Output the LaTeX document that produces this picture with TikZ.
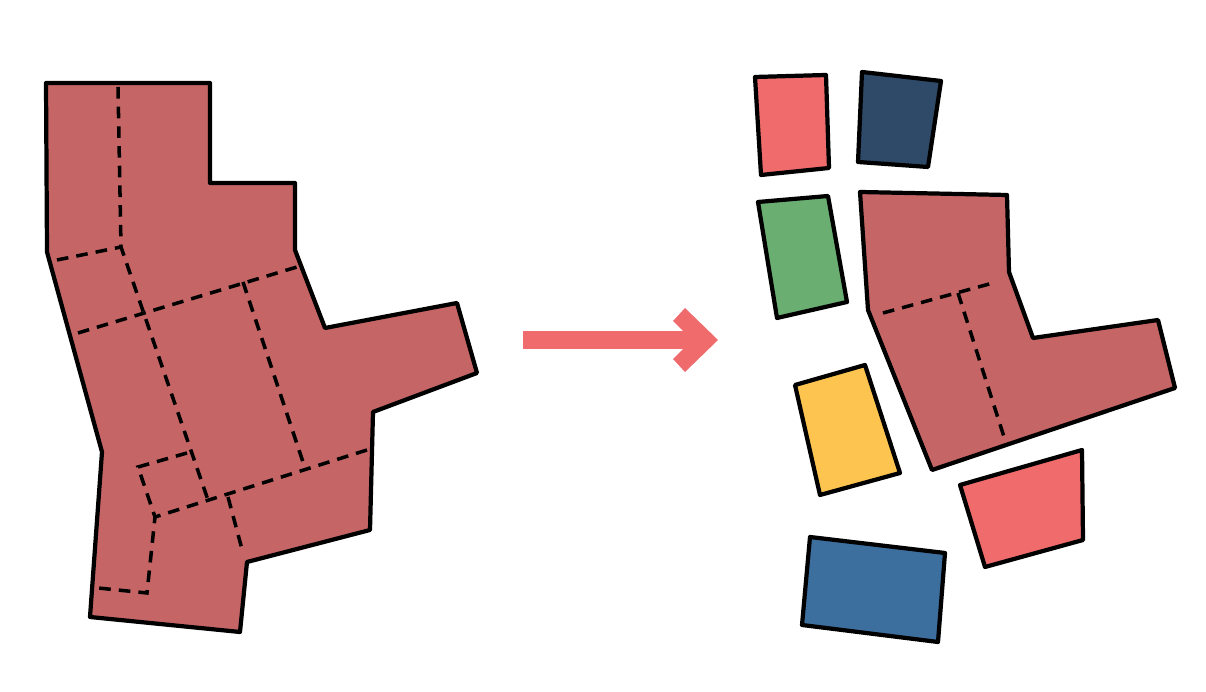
\documentclass[tikz,border=0pt]{standalone}
\usepackage{xcolor}
\usepackage{tikz}
\usetikzlibrary{calc}

\definecolor{brick}{RGB}{197,101,101}
\definecolor{coral}{RGB}{240,108,108}
\definecolor{navy}{RGB}{46,74,104}
\definecolor{leaf}{RGB}{106,174,114}
\definecolor{sun}{RGB}{253,196,79}
\definecolor{sea}{RGB}{60,110,158}

\begin{document}
\begin{tikzpicture}[
    x={(0.01cm,0)}, y={(0,-0.01cm)},
    piece/.style={draw=black, line width=1.2pt, line join=round},
    seam/.style={draw=black, line width=1pt, dash pattern=on 3.3pt off 2.3pt},
    shift arrow/.style={fill=coral, draw=none}
]
    \useasboundingbox (0,0) rectangle (1206,692);

    % whole block
    \draw[piece, fill=brick] (46,83) -- (210,83) -- (210,183) -- (295,183) -- (295,250)
        -- (325,328) -- (457,303) -- (477,373) -- (373,412) -- (370,530) -- (247,562)
        -- (240,632) -- (90,617) -- (102,452) -- (47,252) -- cycle;
    \draw[seam] (118,87) -- (121,247) -- (208,500);
    \draw[seam] (57,260) -- (121,247);
    \draw[seam] (78,333) -- (297,267);
    \draw[seam] (243,282) -- (303,462);
    \draw[seam] (367,450) -- (155,517);
    \draw[seam] (187,453) -- (138,467) -- (155,517) -- (147,593) -- (98,588);
    \draw[seam] (228,497) -- (243,553);

    % arrow
    \coordinate (from) at (523,340);
    \coordinate (to) at (700,340);
    \fill[shift arrow] ($(from)+(0,-9)$) rectangle ($(to)+(0,9)$);
    \fill[shift arrow] (673,321) -- (685,308) -- (718,340) -- (685,372) -- (673,359) -- (692,340) -- cycle;

    % split pieces
    \draw[piece, fill=coral] (755,77) -- (826,75) -- (829,168) -- (761,175) -- cycle;
    \draw[piece, fill=navy] (862,72) -- (941,81) -- (928,167) -- (858,162) -- cycle;
    \draw[piece, fill=leaf] (758,202) -- (828,196) -- (847,302) -- (777,318) -- cycle;
    \draw[piece, fill=brick] (860,192) -- (1007,195) -- (1009,272) -- (1033,338) -- (1158,320)
        -- (1175,388) -- (932,470) -- (868,310) -- cycle;
    \draw[seam] (883,313) -- (993,283);
    \draw[seam] (958,293) -- (1005,440);
    \draw[piece, fill=sun] (795,385) -- (865,365) -- (900,473) -- (820,495) -- cycle;
    \draw[piece, fill=coral] (960,485) -- (1082,450) -- (1083,540) -- (985,567) -- cycle;
    \draw[piece, fill=sea] (810,537) -- (945,553) -- (938,642) -- (802,625) -- cycle;
\end{tikzpicture}
\end{document}
